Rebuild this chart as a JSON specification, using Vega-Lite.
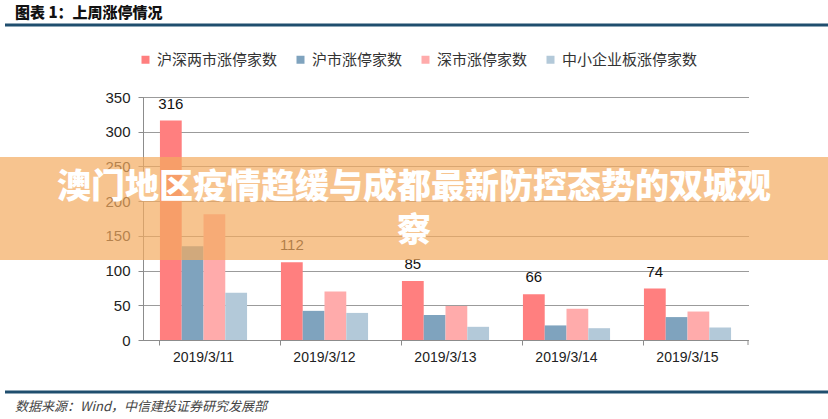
{
  "$schema": "https://vega.github.io/schema/vega-lite/v6.json",
  "width": 605,
  "height": 243,
  "autosize": {"type": "none"},
  "padding": {"left": 143, "top": 97, "right": 80, "bottom": 79},
  "background": "white",
  "config": {"view": {"stroke": null}, "font": "Liberation Sans"},
  "datasets": {
    "bars": [
      {"date": "2019/3/11", "series": "沪深两市涨停家数", "value": 316},
      {"date": "2019/3/11", "series": "沪市涨停家数", "value": 135},
      {"date": "2019/3/11", "series": "深市涨停家数", "value": 181},
      {"date": "2019/3/11", "series": "中小企业板涨停家数", "value": 68},
      {"date": "2019/3/12", "series": "沪深两市涨停家数", "value": 112},
      {"date": "2019/3/12", "series": "沪市涨停家数", "value": 42},
      {"date": "2019/3/12", "series": "深市涨停家数", "value": 70},
      {"date": "2019/3/12", "series": "中小企业板涨停家数", "value": 39},
      {"date": "2019/3/13", "series": "沪深两市涨停家数", "value": 85},
      {"date": "2019/3/13", "series": "沪市涨停家数", "value": 36},
      {"date": "2019/3/13", "series": "深市涨停家数", "value": 49},
      {"date": "2019/3/13", "series": "中小企业板涨停家数", "value": 19},
      {"date": "2019/3/14", "series": "沪深两市涨停家数", "value": 66},
      {"date": "2019/3/14", "series": "沪市涨停家数", "value": 21},
      {"date": "2019/3/14", "series": "深市涨停家数", "value": 45},
      {"date": "2019/3/14", "series": "中小企业板涨停家数", "value": 17},
      {"date": "2019/3/15", "series": "沪深两市涨停家数", "value": 74},
      {"date": "2019/3/15", "series": "沪市涨停家数", "value": 33},
      {"date": "2019/3/15", "series": "深市涨停家数", "value": 41},
      {"date": "2019/3/15", "series": "中小企业板涨停家数", "value": 18}
    ]
  },
  "layer": [
    {
      "data": {"name": "bars"},
      "encoding": {
        "x": {
          "field": "date", "type": "nominal",
          "scale": {"paddingInner": 0.28, "paddingOuter": 0.14},
          "axis": {
            "title": null, "labelAngle": 0, "bandPosition": 0,
            "domainColor": "#8c8c8c", "tickColor": "#8c8c8c", "tickSize": 5,
            "labelFontSize": 14, "labelColor": "#222", "labelPadding": 5,
            "labelFont": "Liberation Sans"
          }
        },
        "xOffset": {
          "field": "series", "type": "nominal",
          "sort": ["沪深两市涨停家数", "沪市涨停家数", "深市涨停家数", "中小企业板涨停家数"],
          "scale": {"paddingInner": 0, "paddingOuter": 0}
        },
        "y": {
          "field": "value", "type": "quantitative",
          "scale": {"domain": [0, 350], "nice": false},
          "axis": {
            "title": null, "values": [0, 50, 100, 150, 200, 250, 300, 350],
            "labelOverlap": false,
            "domainColor": "#8c8c8c", "tickColor": "#8c8c8c", "tickSize": 5,
            "labelFontSize": 15, "labelColor": "#222", "labelPadding": 8,
            "grid": true, "gridColor": "#222", "gridDash": [1, 1], "gridOpacity": 0.9
          }
        }
      },
      "layer": [
        {
          "mark": {"type": "bar"},
          "encoding": {
            "color": {
              "field": "series", "type": "nominal",
              "sort": ["沪深两市涨停家数", "沪市涨停家数", "深市涨停家数", "中小企业板涨停家数"],
              "scale": {
                "domain": ["沪深两市涨停家数", "沪市涨停家数", "深市涨停家数", "中小企业板涨停家数"],
                "range": ["#ff7f7f", "#7fa3be", "#ffabab", "#b3c9d9"]
              },
              "legend": {
                "title": null, "orient": "none", "legendX": -5, "legendY": -45,
                "direction": "horizontal", "columns": 4,
                "symbolType": "square", "symbolSize": 64, "symbolStrokeWidth": 0,
                "labelFont": "Noto Sans CJK SC", "labelFontSize": 15, "labelColor": "#333",
                "labelOffset": 4, "columnPadding": 15
              }
            }
          }
        },
        {
          "transform": [{"filter": "datum.series === '沪深两市涨停家数'"}],
          "mark": {"type": "text", "baseline": "bottom", "dy": -9, "fontSize": 15, "color": "#111"},
          "encoding": {
            "text": {"field": "value", "type": "quantitative"}
          }
        }
      ]
    },
    {
      "data": {"values": [{}]},
      "mark": {"type": "rule", "color": "#8c8c8c", "strokeWidth": 1},
      "encoding": {"x": {"value": 605}, "y": {"value": 243}, "y2": {"value": 248}}
    },
    {
      "data": {"values": [{}]},
      "mark": {"type": "rect", "color": "#f3ab60", "opacity": 0.7},
      "encoding": {"x": {"value": -143}, "x2": {"value": 685}, "y": {"value": 60}, "y2": {"value": 163}}
    },
    {
      "data": {"values": [{}]},
      "mark": {
        "type": "text", "text": ["澳门地区疫情趋缓与成都最新防控态势的双城观", "察"],
        "font": "Noto Sans CJK SC", "fontWeight": 900, "fontSize": 34,
        "lineHeight": 44, "color": "white", "align": "center", "baseline": "top"
      },
      "encoding": {"x": {"value": 271}, "y": {"value": 74}}
    },
    {
      "data": {"values": [{}]},
      "mark": {
        "type": "text", "text": "图表 1：上周涨停情况",
        "font": "Noto Sans CJK SC", "fontWeight": 900, "fontSize": 15,
        "color": "#111", "align": "left", "baseline": "middle"
      },
      "encoding": {"x": {"value": -128}, "y": {"value": -84}}
    },
    {
      "data": {"values": [{}]},
      "mark": {"type": "rule", "color": "#1f4e6e", "strokeWidth": 3},
      "encoding": {"x": {"value": -138}, "x2": {"value": 685}, "y": {"value": -72}}
    },
    {
      "data": {"values": [{}]},
      "mark": {"type": "rule", "color": "#1f4e6e", "strokeWidth": 3},
      "encoding": {"x": {"value": -138}, "x2": {"value": 685}, "y": {"value": 295}}
    },
    {
      "data": {"values": [{}]},
      "mark": {
        "type": "text", "text": "数据来源：Wind，中信建投证券研究发展部",
        "font": "Noto Sans CJK SC", "fontStyle": "italic", "fontSize": 13,
        "color": "#444", "align": "left", "baseline": "middle"
      },
      "encoding": {"x": {"value": -128}, "y": {"value": 310}}
    }
  ]
}
